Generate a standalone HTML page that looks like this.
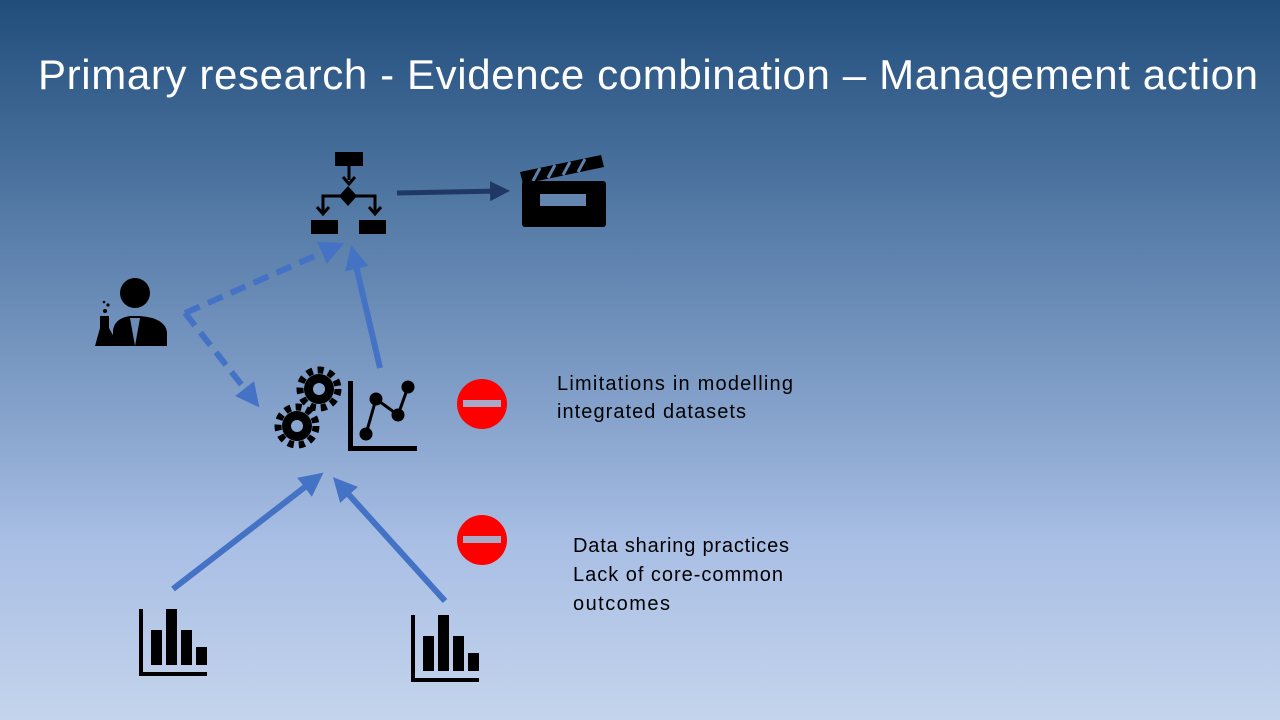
<!DOCTYPE html>
<html><head><style>
body{margin:0;width:1280px;height:720px;overflow:hidden;font-family:"Liberation Sans",sans-serif;}
.bg{position:absolute;left:0;top:0;width:1280px;height:720px;background:linear-gradient(180deg,#214d7b 0%,#5d82ad 35%,#8aa6cf 60%,#a8bee4 75%,#c4d4ec 100%);}
</style></head><body><div class="bg"></div>
<svg width="1280" height="720" style="position:absolute;left:0;top:0">
<defs>
<marker id="ab" markerWidth="4" markerHeight="4" refX="2" refY="2" orient="auto" markerUnits="strokeWidth"><path d="M0,0 L4,2 L0,4 z" fill="#4472c4"/></marker>
<marker id="ad" markerWidth="4" markerHeight="4" refX="2" refY="2" orient="auto" markerUnits="strokeWidth"><path d="M0,0 L4,2 L0,4 z" fill="#203864"/></marker>
<g id="bars"><rect x="139" y="609" width="4" height="67"/><rect x="139" y="672" width="68" height="4"/><rect x="151" y="630" width="11" height="35"/><rect x="166" y="609" width="11" height="56"/><rect x="181" y="630" width="11" height="35"/><rect x="196" y="647" width="11" height="18"/></g>
</defs>
<text x="38" y="89" font-size="42" fill="#fff" font-family="Liberation Sans, sans-serif" textLength="1220">Primary research - Evidence combination – Management action</text>
<g fill="#000" stroke="#000">
<rect x="335" y="152" width="28" height="14" stroke="none"/>
<line x1="349" y1="166" x2="349" y2="180" stroke-width="3"/><path d="M343,177 L349,184 L355,177" fill="none" stroke-width="3"/>
<path d="M348,186 L357,196 L348,206 L339,196z" stroke="none"/>
<path d="M323,212 L323,196 L375,196 L375,212" fill="none" stroke-width="3"/>
<path d="M317,207 L323,214 L329,207 M369,207 L375,214 L381,207" fill="none" stroke-width="3"/>
<rect x="311" y="220" width="27" height="14" stroke="none"/><rect x="359" y="220" width="27" height="14" stroke="none"/>
</g>
<line x1="397" y1="193" x2="500" y2="191" stroke="#203864" stroke-width="5" marker-end="url(#ad)"/>
<path d="M520,172 L601,155 L604,167 L523,184z" fill="#000"/>
<g stroke="#5d82ad" stroke-width="3"><line x1="533" y1="181" x2="540" y2="168"/><line x1="548" y1="178" x2="555" y2="165"/><line x1="563" y1="175" x2="570" y2="162"/><line x1="578" y1="172" x2="585" y2="159"/></g>
<rect x="522" y="181" width="84" height="46" rx="3" fill="#000"/><rect x="540" y="194" width="46" height="12" fill="#6385b0"/>
<circle cx="135" cy="293" r="15" fill="#000"/>
<path d="M113,346 L113,330 Q115,318 130,316 L140,316 Q165,318 167,332 L167,346z" fill="#000"/>
<path d="M130,318 L135,346 L140,318z" fill="#6c8cb8"/>
<path d="M100,316 L109,316 L109,328 L119,346 L95,346 L100,328z" fill="#000"/>
<circle cx="105" cy="311" r="2" fill="#000"/><circle cx="108" cy="305" r="1.6" fill="#000"/><circle cx="104" cy="302" r="1.3" fill="#000"/>
<path d="M185,313 L333,248" stroke="#4472c4" stroke-width="6" stroke-dasharray="16,9" fill="none" marker-end="url(#ab)"/>
<path d="M185,313 L252,398" stroke="#4472c4" stroke-width="6" stroke-dasharray="16,9" fill="none" marker-end="url(#ab)"/>
<line x1="380" y1="368" x2="354" y2="257" stroke="#4472c4" stroke-width="6" marker-end="url(#ab)"/>
<g fill="#000"><circle cx="319" cy="389" r="15"/><circle cx="319" cy="389" r="19" fill="none" stroke="#000" stroke-width="7" stroke-dasharray="6,5"/><circle cx="319" cy="389" r="6" fill="#85a3cc"/>
<circle cx="297" cy="426" r="15"/><circle cx="297" cy="426" r="19" fill="none" stroke="#000" stroke-width="7" stroke-dasharray="6,5"/><circle cx="297" cy="426" r="6" fill="#88a6cf"/></g>
<g fill="#000" stroke="#000"><rect x="348" y="381" width="5" height="70" stroke="none"/><rect x="348" y="446" width="69" height="5" stroke="none"/>
<polyline points="366,434 376,399 398,415 408,387" fill="none" stroke-width="3"/>
<circle cx="366" cy="434" r="6"/><circle cx="376" cy="399" r="6"/><circle cx="398" cy="415" r="6"/><circle cx="408" cy="387" r="6"/></g>
<use href="#bars"/><use href="#bars" transform="translate(272,6)"/>
<line x1="173" y1="589" x2="314" y2="480" stroke="#4472c4" stroke-width="6" marker-end="url(#ab)"/>
<line x1="445" y1="601" x2="341" y2="486" stroke="#4472c4" stroke-width="6" marker-end="url(#ab)"/>
<circle cx="482" cy="404" r="25" fill="#ff0000"/><rect x="463" y="400" width="38" height="7" fill="#a8a8c8"/>
<circle cx="482" cy="540" r="25" fill="#ff0000"/><rect x="463" y="536" width="38" height="7" fill="#a8a8c8"/>
<g font-size="20" fill="#000" font-family="Liberation Sans, sans-serif">
<text x="557" y="390" textLength="236">Limitations in modelling</text><text x="557" y="418" textLength="189">integrated datasets</text>
<text x="573" y="552" textLength="216">Data sharing practices</text><text x="573" y="581" textLength="210">Lack of core-common</text><text x="573" y="610" textLength="97">outcomes</text></g>
</svg></body></html>
